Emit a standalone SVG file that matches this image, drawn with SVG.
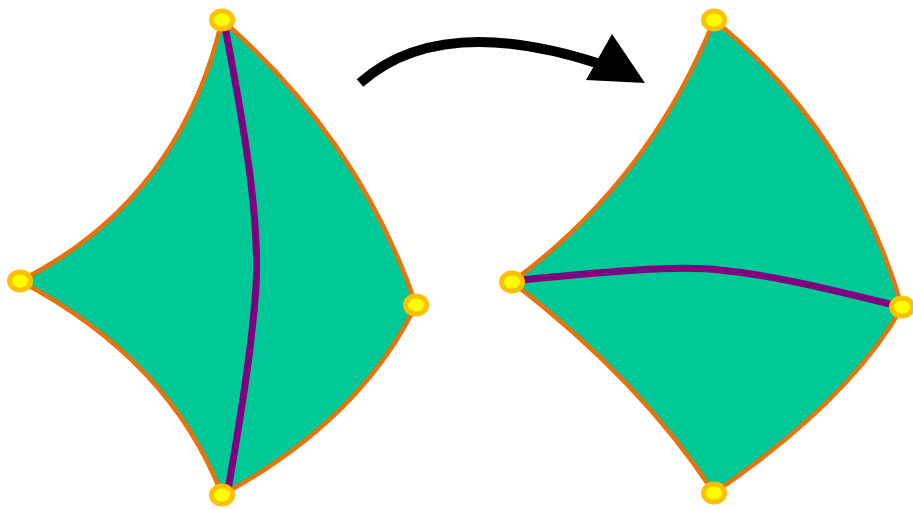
<svg xmlns="http://www.w3.org/2000/svg" width="913" height="509" viewBox="0 0 913 509">
<style>
.face{fill:#00c896;stroke:#e8720c;stroke-width:4.5;stroke-linejoin:round}
.cut{fill:none;stroke:#800080;stroke-width:7}
.v{fill:#ffff00;stroke:#ffc000;stroke-width:5}
</style>
<g id="shape-left">
<path class="face" d="M222,20 Q180,200 20,281 Q170,360 222,495 Q360,420 416,305 Q360,140 222,20 Z"/>
<path class="cut" d="M224,22 C245,130 262,230 255,300 C250,360 240,420 228,490"/>
<ellipse class="v" cx="222" cy="20" rx="10.5" ry="9"/>
<ellipse class="v" cx="20" cy="281" rx="10.5" ry="9"/>
<ellipse class="v" cx="416" cy="305" rx="10.5" ry="9"/>
<ellipse class="v" cx="222" cy="495" rx="10.5" ry="9"/>
</g>
<g id="shape-right">
<path class="face" d="M714,20 Q650,180 512,282 Q640,380 714,493 Q850,400 902,307 Q850,130 714,20 Z"/>
<path class="cut" d="M512,281 C600,272 680,265 720,270 C780,276 840,292 902,307"/>
<ellipse class="v" cx="714" cy="20" rx="10.5" ry="9"/>
<ellipse class="v" cx="512" cy="282" rx="10.5" ry="9"/>
<ellipse class="v" cx="902" cy="307" rx="10.5" ry="9"/>
<ellipse class="v" cx="714" cy="493" rx="10.5" ry="9"/>
</g>
<g id="connectors">
<path d="M360,83 Q440,12 600,64" fill="none" stroke="#000" stroke-width="10"/>
<polygon points="586,80 645,83 612,34" fill="#000"/>
</g>
</svg>
